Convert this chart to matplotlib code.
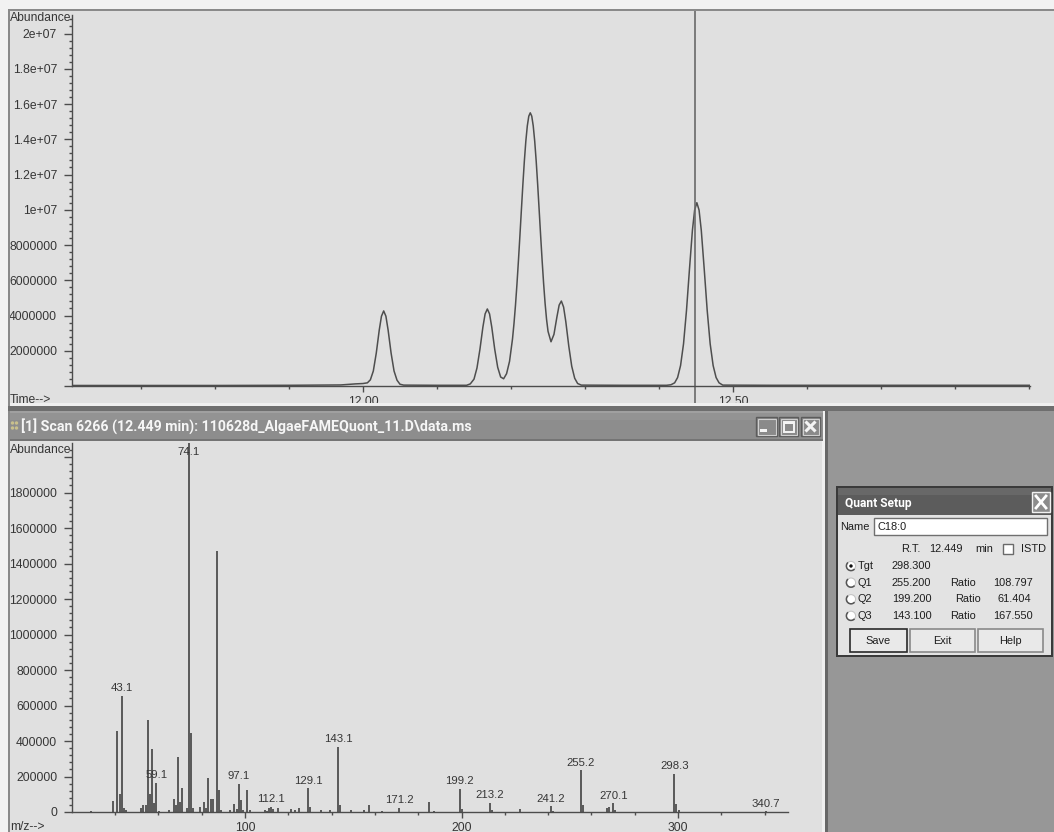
import matplotlib
matplotlib.use("Agg")
import matplotlib.pyplot as plt
from matplotlib.patches import Rectangle, Circle, Arc
from matplotlib.ticker import FixedLocator, MultipleLocator, FuncFormatter

W, H = 1054, 832

# total ion chromatogram: retention time (min) vs abundance (millions)
tic_time = [11.607, 11.70, 11.80, 11.90, 11.97, 11.99, 12.000, 12.006, 12.010, 12.014,
            12.018, 12.022, 12.025, 12.028, 12.031, 12.034, 12.038, 12.042, 12.046, 12.050,
            12.055, 12.10, 12.140, 12.145, 12.150, 12.154, 12.158, 12.162, 12.165, 12.168,
            12.171, 12.174, 12.178, 12.182, 12.186, 12.190, 12.194, 12.198, 12.202, 12.204,
            12.206, 12.208, 12.210, 12.212, 12.214, 12.216, 12.218, 12.220, 12.222, 12.224,
            12.226, 12.228, 12.230, 12.232, 12.234, 12.236, 12.238, 12.240, 12.242, 12.244,
            12.246, 12.248, 12.250, 12.254, 12.258, 12.262, 12.265, 12.268, 12.271, 12.274,
            12.278, 12.282, 12.286, 12.290, 12.295, 12.35, 12.41, 12.416, 12.421, 12.425,
            12.429, 12.433, 12.437, 12.441, 12.445, 12.448, 12.451, 12.454, 12.457, 12.461,
            12.465, 12.469, 12.473, 12.477, 12.481, 12.486, 12.55, 12.65, 12.75, 12.85,
            12.901]
tic_abund = [0.03, 0.03, 0.03, 0.04, 0.06, 0.12, 0.14, 0.18, 0.35, 0.85,
             1.87, 3.17, 3.96, 4.26, 3.96, 3.17, 1.87, 0.85, 0.33, 0.10,
             0.05, 0.04, 0.04, 0.12, 0.39, 1.02, 2.08, 3.34, 4.09, 4.37,
             4.09, 3.34, 2.08, 1.06, 0.51, 0.41, 0.70, 1.40, 2.67, 3.54,
             4.57, 5.77, 7.10, 8.52, 9.99, 11.43, 12.76, 13.89, 14.76, 15.31,
             15.50, 15.31, 14.76, 13.89, 12.76, 11.43, 9.99, 8.53, 7.13, 5.83,
             4.70, 3.78, 3.10, 2.51, 2.93, 3.92, 4.59, 4.82, 4.48, 3.65,
             2.27, 1.12, 0.44, 0.14, 0.05, 0.04, 0.04, 0.07, 0.18, 0.48,
             1.16, 2.39, 4.28, 6.61, 8.83, 9.98, 10.40, 9.98, 8.83, 6.61,
             4.28, 2.39, 1.16, 0.48, 0.18, 0.05, 0.04, 0.04, 0.04, 0.04,
             0.04]
time_labels = [12.00, 12.50]
scan_time = 12.449

# mass spectrum of scan 6266
spec_mz = [29.1, 39.1, 41.1, 42.1, 43.1, 44.1, 45.1, 52.1, 53.1, 54.1,
           55.1, 56.1, 57.1, 58.1, 59.1, 60.1, 65.1, 67.1, 68.1, 69.1,
           70.1, 71.1, 73.1, 74.1, 75.1, 76.1, 79.1, 81.1, 82.1, 83.1,
           84.1, 85.1, 87.1, 88.1, 89.1, 93.1, 95.1, 96.1, 97.1, 98.1,
           99.1, 101.1, 102.1, 109.1, 110.1, 111.1, 112.1, 113.1, 115.1, 121.1,
           123.1, 125.1, 129.1, 130.1, 135.1, 139.1, 143.1, 144.1, 149.1, 155.1,
           157.1, 163.1, 171.2, 185.2, 187.2, 199.2, 200.2, 213.2, 214.2, 227.2,
           241.2, 242.2, 255.2, 256.2, 267.2, 268.2, 270.1, 271.1, 298.3, 299.3,
           300.3, 340.7]
spec_abund = [6000, 60000, 456000, 103000, 656000, 25000, 12000, 22000, 40000, 38000,
              516000, 100000, 355000, 50000, 162000, 8000, 10000, 73000, 40000, 308000,
              55000, 133000, 20000, 2079000, 445000, 22000, 30000, 58000, 25000, 190000,
              71000, 73000, 1472000, 123000, 10000, 10000, 45000, 15000, 159000, 67000,
              12000, 123000, 10000, 14000, 8000, 22000, 30000, 16000, 24000, 15000,
              10000, 20000, 133000, 26000, 12000, 10000, 366000, 40000, 9000, 14000,
              37000, 8000, 22000, 54000, 8000, 131000, 19000, 51000, 10000, 19000,
              32000, 8000, 235000, 38000, 25000, 30000, 48000, 12000, 216000, 47000,
              12000, 3000]
spec_labels = [43.1, 59.1, 74.1, 97.1, 112.1, 129.1, 143.1, 171.2, 199.2, 213.2,
               241.2, 255.2, 270.1, 298.3, 340.7]

# quant setup entries
quant_name = "C18:0"
quant_rt = "12.449"
quant_ions = ["Tgt", "Q1", "Q2", "Q3"]
quant_mz = ["298.300", "255.200", "199.200", "143.100"]
quant_ratio = ["", "108.797", "61.404", "167.550"]

plt.rcParams["font.family"] = ["Liberation Sans", "DejaVu Sans"]
TXT = "#363636"
LINE = "#4c4c4c"
PANEL = "#e0e0e0"

fig = plt.figure(figsize=(W / 100, H / 100), dpi=100)
fig.patch.set_facecolor("#f2f2f2")


def frac(x0, y0, x1, y1):
    return [x0 / W, 1 - y1 / H, (x1 - x0) / W, (y1 - y0) / H]


def pixel_layer(z):
    a = fig.add_axes([0, 0, 1, 1], zorder=z)
    a.set_xlim(0, W)
    a.set_ylim(H, 0)
    a.axis("off")
    return a


def box(a, x0, y0, x1, y1, fc, ec="none", lw=0):
    a.add_patch(Rectangle((x0, y0), x1 - x0, y1 - y0, facecolor=fc,
                          edgecolor=ec, linewidth=lw))


def fit_text(a, x, y, s, width, **kw):
    t = a.text(x, y, s, **kw)
    w = t.get_window_extent(fig.canvas.get_renderer()).width
    t.set_fontsize(t.get_fontsize() * width / w)
    return t


def style_axes(ax):
    ax.patch.set_alpha(0)
    for side in ("top", "right"):
        ax.spines[side].set_visible(False)
    for side in ("left", "bottom"):
        ax.spines[side].set_color(LINE)
        ax.spines[side].set_linewidth(1.0)
    ax.tick_params(which="both", direction="out", color=LINE, width=1,
                   labelsize=8.7, labelcolor=TXT)
    ax.tick_params(axis="y", which="major", length=6, pad=4.7)
    ax.tick_params(axis="y", which="minor", length=2.2)
    ax.tick_params(axis="x", which="major", length=4.2, pad=3)
    ax.tick_params(axis="x", which="minor", length=2.4)


back = pixel_layer(0)
box(back, 10, 11, W, 403, PANEL)
box(back, 10, 441, 822, H, PANEL)
back.text(10, 18, "Abundance", fontsize=8.7, color=TXT, va="center")
back.text(10, 394, "Time-->", fontsize=8.7, color=TXT, va="top")
back.text(10, 450, "Abundance", fontsize=8.7, color=TXT, va="center")
back.text(10, 821, "m/z-->", fontsize=8.7, color=TXT, va="top")

# chromatogram
ax1 = fig.add_axes(frac(72, 15, 1030, 386), zorder=1)
style_axes(ax1)
ax1.plot(tic_time, [v * 1e6 for v in tic_abund], color="#4e4e4e", lw=1.1,
         solid_joinstyle="round")
ax1.axvline(scan_time, ymin=-0.047, ymax=1.015, color="#6a6a6a", lw=1.2, clip_on=False)
ax1.set_xlim(11.607, 12.901)
ax1.set_ylim(0, 21.05e6)
ax1.xaxis.set_major_locator(FixedLocator(time_labels))
ax1.xaxis.set_major_formatter(FuncFormatter(lambda v, p: f"{v:.2f}"))
ax1.xaxis.set_minor_locator(MultipleLocator(0.1))
ax1.yaxis.set_major_locator(MultipleLocator(2e6))
ax1.yaxis.set_minor_locator(MultipleLocator(4e5))
ax1.yaxis.set_major_formatter(FuncFormatter(
    lambda v, p: "" if v <= 0 else (f"{v:.0f}" if v < 1e7 else "%g" % v)))

# mass spectrum
ax2 = fig.add_axes(frac(72, 443, 788, 812), zorder=1)
style_axes(ax2)
ax2.vlines(spec_mz, 0, spec_abund, color="#4e4e4e", lw=1.3)
ytop = max(spec_abund)
ax2.set_xlim(20.1, 350.8)
ax2.set_ylim(0, ytop)
ax2.xaxis.set_major_locator(MultipleLocator(100))
ax2.xaxis.set_minor_locator(MultipleLocator(20))
ax2.xaxis.set_major_formatter(FuncFormatter(lambda v, p: f"{v:.0f}"))
ax2.yaxis.set_major_locator(MultipleLocator(200000))
ax2.yaxis.set_minor_locator(MultipleLocator(40000))
# the label nearest the top would run into the axis title, so it is left blank
ax2.yaxis.set_major_formatter(FuncFormatter(lambda v, p: "" if v > 1.9e6 else f"{v:.0f}"))
for m in spec_labels:
    a = spec_abund[spec_mz.index(m)]
    if a >= ytop:
        ax2.annotate(f"{m:.1f}", (m, ytop), xytext=(0, -3), textcoords="offset points",
                     ha="center", va="top", fontsize=8.2, color=TXT)
    else:
        ax2.annotate(f"{m:.1f}", (m, a), xytext=(0, 2), textcoords="offset points",
                     ha="center", va="bottom", fontsize=8.2, color=TXT)

# window frames, separator and title bar
front = pixel_layer(3)
box(front, 0, 0, W, 9, "#f2f2f2")
box(front, 0, 0, 8, H, "#f2f2f2")
box(front, 8, 9, W, 11, "#8a8a8a")
box(front, 8, 9, 10, H, "#8a8a8a")
box(front, 10, 403, W, 406, "#efefef")
box(front, 8, 406, W, 411, "#6e6e6e")
box(front, 826, 411, W, H, "#979797")
box(front, 822, 441, 825, H, "#f0f0f0")
box(front, 825, 411, 828, H, "#686868")
box(front, 10, 411, 823, 441, "#8d8d8d")
box(front, 10, 413, 823, 420, "#939393")
box(front, 10, 411, 823, 413, "#a0a0a0")
box(front, 10, 439, 823, 441, "#747474")

# title icon
for cx, cy in [(12.5, 423), (16.5, 423), (12.5, 428), (16.5, 428)]:
    front.add_patch(Circle((cx, cy), 1.7, facecolor="#c9c08c", edgecolor="none"))
fit_text(front, 21, 426, r"[1] Scan 6266 (12.449 min): 110628d_AlgaeFAMEQuont_11.D\data.ms",
         451, color="#f6f6f6", fontweight="bold", va="center", family="Roboto")

# minimise / maximise / close
for x0, x1 in [(756, 777), (779, 798), (801, 820)]:
    box(front, x0, 417, x1, 436, "#8a8a8a", ec="#5c5c5c", lw=1)
    box(front, x0 + 1.5, 418.5, x1 - 1.5, 434.5, "none", ec="#cfcfcf", lw=0.8)
box(front, 760, 429, 767, 432, "#f4f4f4")
box(front, 783.5, 421.5, 793.5, 432, "none", ec="#f4f4f4", lw=1.4)
box(front, 783.5, 421.5, 793.5, 423.5, "#f4f4f4")
front.plot([805.5, 815.5], [421.5, 431.5], color="#f4f4f4", lw=2.2, solid_capstyle="butt")
front.plot([805.5, 815.5], [431.5, 421.5], color="#f4f4f4", lw=2.2, solid_capstyle="butt")

# Quant Setup dialog
box(front, 836, 486, 1053, 657, "#3a3a3a")
box(front, 838, 488, 1051, 515, "#5c5c5c")
box(front, 838, 488, 1051, 495, "#686868")
box(front, 838, 515, 1051, 655, "#e3e3e3")
fit_text(front, 845, 503, "Quant Setup", 67, color="white", fontweight="bold",
         va="center", family="Roboto")
box(front, 1032, 492, 1050, 512, "#8c8c8c", ec="#f2f2f2", lw=1)
front.plot([1036, 1046], [496, 508], color="white", lw=2.0)
front.plot([1036, 1046], [508, 496], color="white", lw=2.0)

DLG = "#1e1e1e"
fs = 7.9
front.text(840, 527, "Name", fontsize=fs, color=DLG, va="center")
box(front, 874, 518, 1047, 535, "white", ec="#707070", lw=1)
front.text(877, 527, quant_name, fontsize=fs, color=DLG, va="center")
front.text(901, 549, "R.T.", fontsize=fs, color=DLG, va="center")
front.text(929, 549, quant_rt, fontsize=fs, color=DLG, va="center")
front.text(975, 549, "min", fontsize=fs, color=DLG, va="center")
box(front, 1003, 544, 1013, 554, "white", ec="#6a6a6a", lw=1)
front.text(1021, 549, "ISTD", fontsize=fs, color=DLG, va="center")

for i, (ion, mzv, ratio) in enumerate(zip(quant_ions, quant_mz, quant_ratio)):
    yy = 566 + i * 16.6
    front.add_patch(Circle((851, yy), 4.6, facecolor="white", edgecolor="#c4c4c4", lw=0.8))
    front.add_patch(Arc((851, yy), 9.2, 9.2, theta1=40, theta2=230, color="#555555", lw=1.1))
    if i == 0:
        front.add_patch(Circle((851, yy), 1.7, facecolor="#111111", edgecolor="none"))
    front.text(858, yy, ion, fontsize=fs, color=DLG, va="center")
    front.text(892, yy, mzv, fontsize=fs, color=DLG, va="center")
    if ratio:
        rx = 955 if len(ratio) < 7 else 950
        front.text(rx, yy, "Ratio", fontsize=fs, color=DLG, va="center")
        front.text(rx + 43, yy, ratio, fontsize=fs, color=DLG, va="center")

for x0, x1, label, ec in [(850, 907, "Save", "#2a2a2a"), (910, 975, "Exit", "#8a8a8a"),
                          (978, 1043, "Help", "#8a8a8a")]:
    box(front, x0, 629, x1, 652, "#e9e9e9", ec=ec, lw=1.2)
    front.text((x0 + x1) / 2, 641, label, fontsize=fs, color=DLG, ha="center", va="center")

fig.savefig("out.png", dpi=100, facecolor=fig.get_facecolor())
